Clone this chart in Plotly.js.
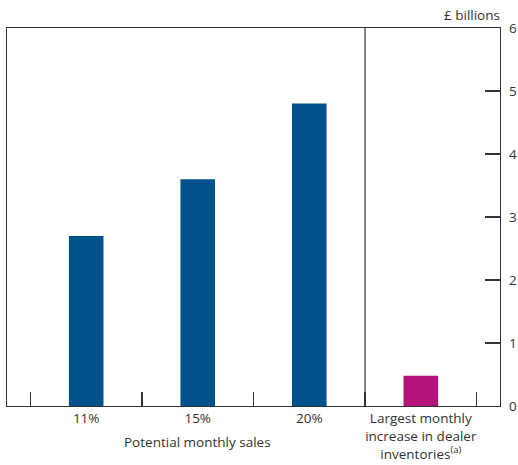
<!DOCTYPE html>
<html>
<head>
<meta charset="utf-8">
<script src="https://cdn.plot.ly/plotly-3.0.1.min.js"></script>
<style>
  body { margin: 0; }
  #plot { width: 518px; height: 465px; }
</style>
</head>
<body>
<div id="plot"></div>
<script>
const categories = ["11%", "15%", "20%", "Largest monthly<br>increase in dealer<br>inventories<sup>(a)</sup>"];
const salesValues = [2.7, 3.6, 4.8];
const inventoryValues = [0.48];
const boundaries = [-0.5, 0.5, 1.5, 2.5, 3.5];
const yTicks = [0, 1, 2, 3, 4, 5, 6];

const axisColor = "#333333";
const navy = "#00528a";
const magenta = "#b3137b";

const data = [
  {
    x: [0, 1, 2],
    y: salesValues,
    type: "bar",
    width: 0.31,
    marker: { color: navy },
    hoverinfo: "y",
  },
  {
    x: [3],
    y: inventoryValues,
    type: "bar",
    width: 0.31,
    marker: { color: magenta },
    hoverinfo: "y",
  },
  // invisible trace to carry the boundary tick axis
  {
    x: [0],
    y: [0],
    xaxis: "x2",
    type: "scatter",
    mode: "none",
    hoverinfo: "skip",
  },
];

const layout = {
  width: 518,
  height: 465,
  margin: { l: 7, r: 18, t: 28, b: 59 },
  paper_bgcolor: "#ffffff",
  plot_bgcolor: "#ffffff",
  showlegend: false,
  font: { family: "Open Sans, DejaVu Sans, sans-serif", size: 13.5, color: axisColor },
  xaxis: {
    range: [-0.71, 3.71],
    tickvals: [0, 1, 2, 3],
    ticktext: categories,
    ticks: "",
    showgrid: false,
    zeroline: false,
    showline: true,
    mirror: true,
    linecolor: axisColor,
    linewidth: 1.2,
    tickfont: { size: 13.5 },
    fixedrange: true,
  },
  xaxis2: {
    overlaying: "x",
    anchor: "y",
    side: "bottom",
    range: [-0.71, 3.71],
    tickvals: boundaries,
    ticks: "inside",
    ticklen: 14,
    tickwidth: 1.2,
    tickcolor: axisColor,
    showticklabels: false,
    showgrid: false,
    zeroline: false,
    showline: false,
  },
  yaxis: {
    side: "right",
    range: [0, 6],
    tickvals: yTicks,
    ticks: "inside",
    ticklen: 15,
    tickwidth: 1.2,
    tickcolor: axisColor,
    ticklabelstandoff: 5,
    showgrid: false,
    zeroline: false,
    showline: true,
    mirror: true,
    linecolor: axisColor,
    linewidth: 1.2,
    tickfont: { size: 13.5 },
  },
  shapes: [
    {
      type: "line",
      xref: "x",
      yref: "paper",
      x0: 2.5,
      x1: 2.5,
      y0: 0,
      y1: 1,
      line: { color: axisColor, width: 1.2 },
    },
  ],
  annotations: [
    {
      text: "Potential monthly sales",
      xref: "x",
      yref: "paper",
      x: 1,
      y: -0.095,
      xanchor: "center",
      yanchor: "middle",
      showarrow: false,
      font: { size: 13.5 },
    },
    {
      text: "£ billions",
      xref: "paper",
      yref: "paper",
      x: 1.004,
      y: 1.034,
      xanchor: "right",
      yanchor: "middle",
      showarrow: false,
      font: { size: 13.5 },
    },
  ],
};

Plotly.newPlot("plot", data, layout, { displayModeBar: false, staticPlot: true });
</script>
</body>
</html>
